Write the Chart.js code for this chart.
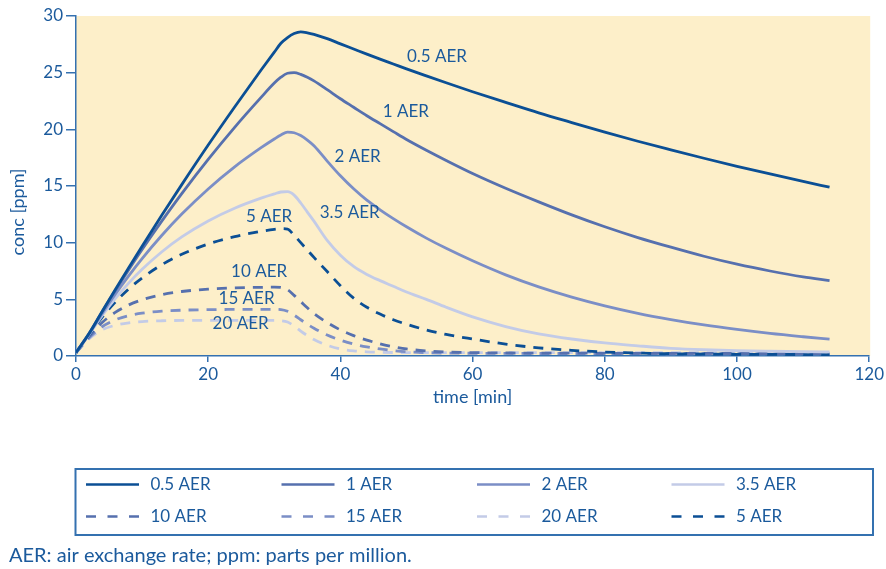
<!DOCTYPE html>
<html>
<head>
<meta charset="utf-8">
<script src="https://cdn.jsdelivr.net/npm/chart.js@4.4.1/dist/chart.umd.min.js"></script>
<style>
  html, body { margin: 0; padding: 0; background: #ffffff; }
  #wrap { position: relative; width: 886px; height: 569px; }
  canvas { display: block; }
</style>
</head>
<body>
<div id="wrap"><canvas id="chart" width="886" height="569"></canvas></div>
<script>
// Sampling times (minutes)
const times = [0, 2, 4, 6, 8, 10, 13, 16, 20, 24, 28, 30, 31, 32, 33, 34, 35, 36, 38, 40,
               42, 44, 46, 48, 50, 53, 56, 60, 65, 70, 75, 80, 85, 90, 95, 100, 105, 110, 114];

// Concentration (ppm) for each air exchange rate
const aer05 = [0.3, 2.0, 3.97, 5.91, 7.82, 9.69, 12.44, 15.12, 18.61, 21.97,
               25.23, 26.81, 27.59, 28.1, 28.45, 28.6, 28.52, 28.38, 28.0, 27.54,
               27.09, 26.64, 26.2, 25.77, 25.34, 24.72, 24.11, 23.32, 22.38, 21.46,
               20.6, 19.76, 18.95, 18.19, 17.45, 16.74, 16.06, 15.4, 14.9];
const aer1  = [0.3, 2.01, 3.95, 5.82, 7.64, 9.4, 11.92, 14.33, 17.35, 20.18,
               22.82, 24.08, 24.6, 24.95, 25.0, 24.85, 24.6, 24.28, 23.5, 22.7,
               21.95, 21.2, 20.5, 19.8, 19.1, 18.15, 17.25, 16.1, 14.8, 13.6,
               12.45, 11.4, 10.45, 9.6, 8.8, 8.1, 7.5, 6.98, 6.65];
const aer2  = [0.3, 1.95, 3.78, 5.49, 7.09, 8.59, 10.65, 12.52, 14.74, 16.69,
               18.38, 19.15, 19.5, 19.75, 19.7, 19.45, 19.05, 18.55, 17.2, 15.9,
               14.75, 13.75, 12.9, 12.12, 11.4, 10.4, 9.5, 8.4, 7.16, 6.1,
               5.2, 4.43, 3.77, 3.22, 2.74, 2.34, 1.99, 1.7, 1.49];
const aer35 = [0.3, 1.91, 3.6, 5.11, 6.45, 7.65, 9.2, 10.51, 11.92, 13.04,
               13.93, 14.3, 14.47, 14.5, 14.2, 13.5, 12.7, 11.9, 10.2, 8.9,
               7.9, 7.2, 6.65, 6.15, 5.65, 5.0, 4.3, 3.45, 2.6, 1.95,
               1.5, 1.15, 0.9, 0.68, 0.55, 0.47, 0.42, 0.38, 0.36];
const aer5  = [0.3, 1.87, 3.45, 4.79, 5.93, 6.89, 8.06, 8.97, 9.88, 10.53,
               11.0, 11.18, 11.24, 11.2, 10.65, 10.0, 9.35, 8.7, 7.45, 6.2,
               5.1, 4.3, 3.7, 3.2, 2.8, 2.3, 1.9, 1.5, 1.05, 0.72,
               0.5, 0.35, 0.26, 0.2, 0.17, 0.15, 0.14, 0.13, 0.12];
const aer10 = [0.3, 1.74, 2.98, 3.87, 4.51, 4.96, 5.42, 5.69, 5.9, 6.01,
               6.06, 6.08, 6.05, 5.85, 5.35, 4.8, 4.25, 3.75, 2.95, 2.3,
               1.8, 1.4, 1.08, 0.82, 0.62, 0.45, 0.35, 0.3, 0.27, 0.25,
               0.25, 0.24, 0.24, 0.23, 0.23, 0.22, 0.22, 0.22, 0.22];
const aer15 = [0.3, 1.62, 2.6, 3.2, 3.56, 3.78, 3.96, 4.04, 4.09, 4.11,
               4.12, 4.12, 4.1, 3.95, 3.6, 3.2, 2.8, 2.45, 1.85, 1.4,
               1.05, 0.8, 0.62, 0.48, 0.38, 0.3, 0.26, 0.24, 0.23, 0.22,
               0.22, 0.21, 0.21, 0.2, 0.2, 0.2, 0.2, 0.2, 0.2];
const aer20 = [0.3, 1.53, 2.32, 2.72, 2.93, 3.04, 3.11, 3.14, 3.15, 3.15,
               3.15, 3.15, 3.12, 3.0, 2.65, 2.2, 1.8, 1.45, 0.95, 0.62,
               0.45, 0.37, 0.33, 0.31, 0.3, 0.3, 0.3, 0.3, 0.3, 0.3,
               0.3, 0.3, 0.3, 0.3, 0.3, 0.3, 0.3, 0.3, 0.3];

const seriesNames = ['0.5 AER', '1 AER', '2 AER', '3.5 AER', '5 AER', '10 AER', '15 AER', '20 AER'];
const seriesValues = [aer05, aer1, aer2, aer35, aer5, aer10, aer15, aer20];

// Axis ticks
const xTicks = [0, 20, 40, 60, 80, 100, 120];
const yTicks = [0, 5, 10, 15, 20, 25, 30];

// Styling
const TEXT = '#1b5a9c';
const AXIS = '#3471b0';
const seriesColors = ['#0b4f95', '#5670ae', '#7b8ec6', '#c3cbe7', '#0b4f95', '#5670ae', '#7b8ec6', '#c3cbe7'];
const seriesDashed = [false, false, false, false, true, true, true, true];

// Where each curve's name is written (in data units)
const labelAnchors = [
  [54.6, 26.4], [49.9, 21.6], [42.6, 17.6], [41.4, 12.7],
  [29.2, 12.3], [27.7, 7.45], [25.8, 5.1], [24.9, 2.9]
];

// Legend layout: row/column order by dataset index
const legendOrder = [[0, 1, 2, 3], [5, 6, 7, 4]];

const datasets = seriesNames.map((name, i) => ({
  label: name,
  data: times.map((t, k) => ({ x: t, y: seriesValues[i][k] })),
  borderColor: seriesColors[i],
  backgroundColor: seriesColors[i],
  borderWidth: 2.8,
  borderDash: seriesDashed[i] ? [10, 8] : [],
  pointRadius: 0,
  cubicInterpolationMode: 'monotone',
  fill: false
}));

const plotBackground = {
  id: 'plotBackground',
  beforeDraw(chart) {
    const { ctx, chartArea: a } = chart;
    ctx.save();
    ctx.fillStyle = '#fdefc9';
    ctx.fillRect(a.left, a.top, a.right - a.left + 1, a.bottom - a.top);
    ctx.restore();
  }
};

const textLayer = {
  id: 'textLayer',
  afterDraw(chart) {
    const { ctx } = chart;
    const xs = chart.scales.x, ys = chart.scales.y;
    ctx.save();
    ctx.fillStyle = TEXT;
    ctx.textBaseline = 'middle';

    // axis titles
    ctx.font = '18px Lato';
    ctx.textAlign = 'center';
    ctx.fillText('time [min]', (xs.left + xs.right) / 2, 397);
    ctx.save();
    ctx.translate(18, 212);
    ctx.rotate(-Math.PI / 2);
    ctx.fillText('conc [ppm]', 0, 0);
    ctx.restore();

    // curve names
    ctx.font = '17px Lato';
    seriesNames.forEach((name, i) => {
      const [t, v] = labelAnchors[i];
      ctx.fillText(name, xs.getPixelForValue(t), ys.getPixelForValue(v));
    });

    // legend box
    ctx.strokeStyle = AXIS;
    ctx.lineWidth = 2;
    ctx.strokeRect(75.5, 469, 797.5, 66);
    const colX = [86, 281.5, 477, 671.5];
    const rowY = [484.5, 516.5];
    ctx.textAlign = 'left';
    ctx.font = '17px Lato';
    legendOrder.forEach((row, r) => {
      row.forEach((di, c) => {
        const ds = chart.data.datasets[di];
        const x0 = colX[c], y0 = rowY[r];
        ctx.save();
        ctx.strokeStyle = ds.borderColor;
        ctx.lineWidth = 2.4;
        ctx.setLineDash(ds.borderDash.length ? [10, 11.5] : []);
        ctx.beginPath();
        ctx.moveTo(x0, y0);
        ctx.lineTo(x0 + 53, y0);
        ctx.stroke();
        ctx.restore();
        ctx.fillStyle = TEXT;
        ctx.fillText(ds.label, x0 + 64.5, y0);
      });
    });

    // footnote
    ctx.font = '20px Lato';
    ctx.fillText('AER: air exchange rate; ppm: parts per million.', 9, 556);
    ctx.restore();
  }
};

new Chart(document.getElementById('chart'), {
  type: 'line',
  data: { datasets },
  plugins: [plotBackground, textLayer],
  options: {
    responsive: false,
    animation: false,
    layout: { padding: { top: 16, right: 16, left: 0, bottom: 0 } },
    plugins: { legend: { display: false }, tooltip: { enabled: false } },
    scales: {
      x: {
        type: 'linear',
        min: 0, max: 120,
        afterBuildTicks: s => { s.ticks = xTicks.map(v => ({ value: v })); },
        afterFit: s => { s.height = 213; },
        ticks: { color: TEXT, font: { family: 'Lato', size: 17 }, padding: 2, maxRotation: 0 },
        grid: { drawOnChartArea: false, drawTicks: true, tickLength: 6, color: AXIS, lineWidth: 1.5 },
        border: { display: true, color: AXIS, width: 1.5 }
      },
      y: {
        type: 'linear',
        min: 0, max: 30,
        afterBuildTicks: s => { s.ticks = yTicks.map(v => ({ value: v })); },
        afterFit: s => { s.width = 76; },
        ticks: { color: TEXT, font: { family: 'Lato', size: 17 }, padding: 3 },
        grid: { drawOnChartArea: false, drawTicks: true, tickLength: 10, color: AXIS, lineWidth: 1.5 },
        border: { display: true, color: AXIS, width: 1.5 }
      }
    }
  }
});
</script>
</body>
</html>
